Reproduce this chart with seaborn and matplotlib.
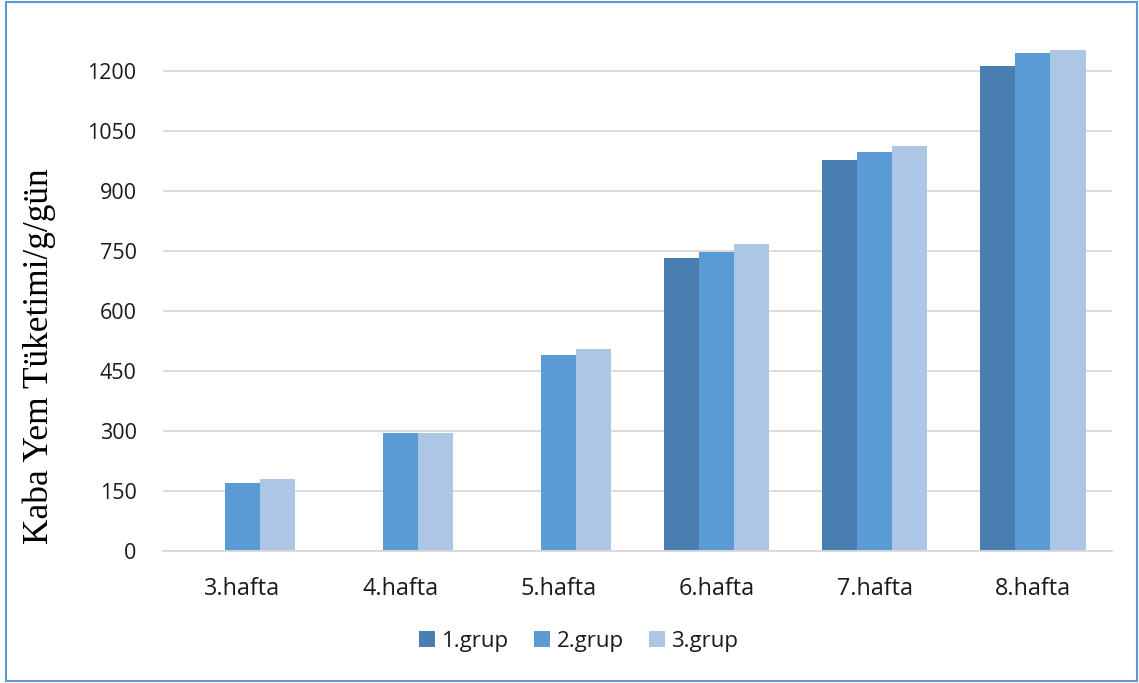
import matplotlib
matplotlib.use("Agg")
import matplotlib.pyplot as plt
from matplotlib.patches import Rectangle
import seaborn as sns
import pandas as pd

# Weekly roughage consumption (g/day) per group
weeks = ["3.hafta", "4.hafta", "5.hafta", "6.hafta", "7.hafta", "8.hafta"]
groups = ["1.grup", "2.grup", "3.grup"]
grup1 = [0, 0, 0, 733, 977, 1212]
grup2 = [169, 296, 489, 748, 997, 1245]
grup3 = [179, 296, 505, 767, 1012, 1253]
y_ticks = [0, 150, 300, 450, 600, 750, 900, 1050, 1200]
colors = ["#4A7EB0", "#5B9BD5", "#ADC6E6"]

df = pd.DataFrame({
    "hafta": weeks * 3,
    "grup": [g for g in groups for _ in weeks],
    "deger": grup1 + grup2 + grup3,
})

sns.set_theme(style="white")
plt.rcParams["font.family"] = ["Open Sans", "DejaVu Sans"]

W, H = 1139, 683
fig = plt.figure(figsize=(W / 100, H / 100), dpi=100)
ax = fig.add_axes([163 / W, 1 - 551 / H, (1112 - 163) / W, 520 / H])

sns.barplot(data=df, x="hafta", y="deger", hue="grup", order=weeks,
            hue_order=groups, palette=colors, width=0.665, gap=0,
            saturation=1, edgecolor="none", linewidth=0, ax=ax, legend=True)

ax.set_xlim(-0.5, len(weeks) - 0.5)
ax.set_ylim(0, 1300)
ax.set_yticks(y_ticks)
ax.set_yticklabels([str(v) for v in y_ticks])
ax.yaxis.grid(True, color="#D9D9D9", linewidth=1.3)
ax.set_axisbelow(True)
for side in ["top", "right", "left"]:
    ax.spines[side].set_visible(False)
ax.spines["bottom"].set_color("#D9D9D9")
ax.spines["bottom"].set_linewidth(1.3)
ax.tick_params(axis="y", length=0, pad=19, labelsize=15.5, labelcolor="#1a1a1a")
ax.tick_params(axis="x", length=0, pad=19, labelsize=16.8, labelcolor="#1a1a1a")
ax.set_xlabel("")
ax.set_ylabel("")

fig.text(39 / W, 1 - 356 / H, "Kaba Yem Tüketimi/g/gün", rotation=90,
         ha="center", va="center", fontsize=25.5,
         family=["Liberation Serif", "DejaVu Serif"], color="#000000")

handles, labels = ax.get_legend_handles_labels()
ax.legend_.remove()
fig.legend(handles, labels, loc="center", bbox_to_anchor=(579 / W, 1 - 641 / H),
           ncol=3, frameon=False, fontsize=16, handlelength=0.7, handleheight=0.7,
           handletextpad=0.3, columnspacing=1.15, labelcolor="#1a1a1a")

fig.patches.append(Rectangle((6 / W, 1 - 681 / H), (1137 - 6) / W, (681 - 2) / H,
                             transform=fig.transFigure, fill=False,
                             edgecolor="#5B9BD5", linewidth=1.5))

fig.savefig("out.png", dpi=100)
